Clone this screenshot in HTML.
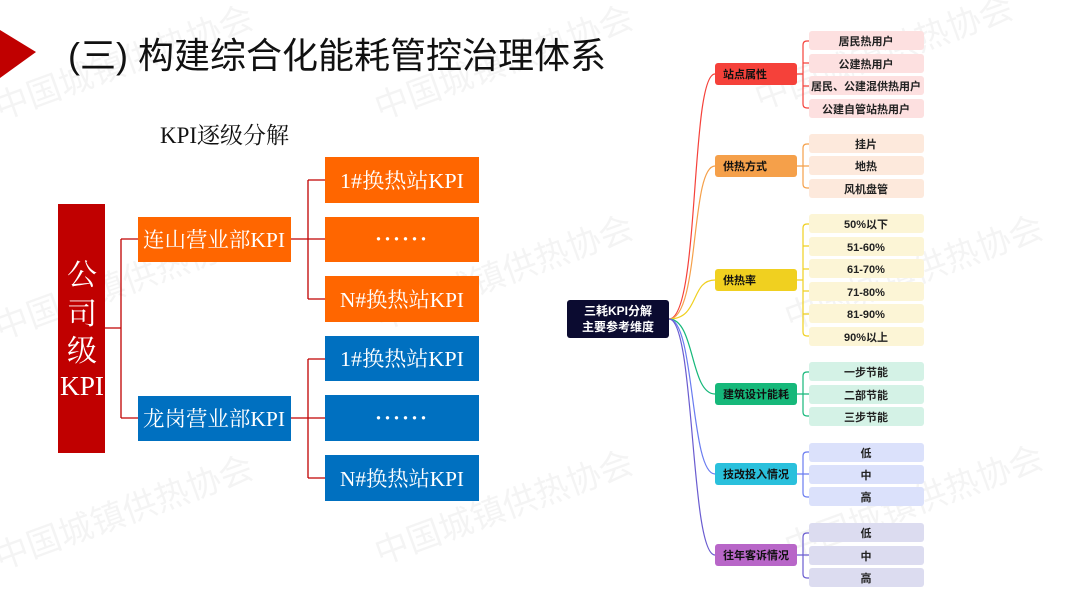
<!DOCTYPE html>
<html><head><meta charset="utf-8"><style>
html,body{margin:0;padding:0;background:#fff;}
body{width:1080px;height:608px;overflow:hidden;position:relative;}
svg{position:absolute;left:0;top:0;}
.s{font-family:"Liberation Serif","Noto Serif CJK SC",serif;}
.a{font-family:"Liberation Sans","Noto Sans CJK SC",sans-serif;}
</style></head><body>
<svg width="1080" height="608" viewBox="0 0 1080 608" xmlns="http://www.w3.org/2000/svg">
<g class="a" font-size="34" fill="#000" fill-opacity="0.045">
<text transform="translate(0,120) rotate(-20)">中国城镇供热协会</text>
<text transform="translate(380,120) rotate(-20)">中国城镇供热协会</text>
<text transform="translate(760,110) rotate(-20)">中国城镇供热协会</text>
<text transform="translate(0,340) rotate(-20)">中国城镇供热协会</text>
<text transform="translate(380,330) rotate(-20)">中国城镇供热协会</text>
<text transform="translate(790,330) rotate(-20)">中国城镇供热协会</text>
<text transform="translate(0,570) rotate(-20)">中国城镇供热协会</text>
<text transform="translate(380,565) rotate(-20)">中国城镇供热协会</text>
<text transform="translate(790,560) rotate(-20)">中国城镇供热协会</text>
</g>
<polygon points="0,30 36,52 0,78" fill="#c00000"/>
<text x="68" y="68" class="a" font-size="36" fill="#111" textLength="538" lengthAdjust="spacingAndGlyphs">(三) 构建综合化能耗管控治理体系</text>
<text x="160" y="143" class="s" font-size="23" fill="#111">KPI逐级分解</text>

<g stroke="#c00000" stroke-width="1.3" fill="none">
<path d="M105 328 H121 M121 239 V418 M121 239 H138 M121 418 H138"/>
<path d="M291 239 H325 M308 180 V299 M308 180 H325 M308 299 H325"/>
<path d="M291 418 H325 M308 359 V478 M308 359 H325 M308 478 H325"/>
</g>
<rect x="58" y="204" width="47" height="249" fill="#c00000"/>
<g class="s" fill="#fff" font-size="30" text-anchor="middle">
<text x="82" y="285">公</text><text x="82" y="324">司</text><text x="82" y="361">级</text><text x="82" y="395" font-size="27" textLength="44" lengthAdjust="spacingAndGlyphs">KPI</text>
</g>
<g fill="#ff6600">
<rect x="138" y="217" width="153" height="45"/>
<rect x="325" y="157" width="154" height="46"/>
<rect x="325" y="217" width="154" height="45"/>
<rect x="325" y="276" width="154" height="46"/>
</g>
<g fill="#0070c0">
<rect x="138" y="396" width="153" height="45"/>
<rect x="325" y="336" width="154" height="45"/>
<rect x="325" y="395" width="154" height="46"/>
<rect x="325" y="455" width="154" height="46"/>
</g>
<g class="s" fill="#fff" font-size="21" text-anchor="middle">
<text x="214" y="247" textLength="142" lengthAdjust="spacingAndGlyphs">连山营业部KPI</text>
<text x="214" y="426" textLength="142" lengthAdjust="spacingAndGlyphs">龙岗营业部KPI</text>
<text x="402" y="188" textLength="124" lengthAdjust="spacingAndGlyphs">1#换热站KPI</text>
<text x="402" y="246" font-weight="bold" letter-spacing="2">······</text>
<text x="402" y="307" textLength="124" lengthAdjust="spacingAndGlyphs">N#换热站KPI</text>
<text x="402" y="366" textLength="124" lengthAdjust="spacingAndGlyphs">1#换热站KPI</text>
<text x="402" y="425" font-weight="bold" letter-spacing="2">······</text>
<text x="402" y="486" textLength="124" lengthAdjust="spacingAndGlyphs">N#换热站KPI</text>
</g>

<g fill="none" stroke-width="1.2">
<path d="M669 319 C700 319 690 74 715 74" stroke="#f5413a"/>
<path d="M669 319 C700 319 690 166 715 166" stroke="#f5a04a"/>
<path d="M669 319 C700 319 690 280 715 280" stroke="#f0d020"/>
<path d="M669 319 C695 319 690 394 715 394" stroke="#16b87a"/>
<path d="M669 319 C695 319 690 474 715 474" stroke="#6a7cf0"/>
<path d="M669 319 C695 319 690 555 715 555" stroke="#6a5cd0"/>
<path d="M797 74 H803 M809 41 H807 Q803 41 803 45 V104 Q803 108 807 108 H809 M803 63 H809 M803 86 H809" stroke="#f5413a"/>
<path d="M797 166 H809 M809 144 H807 Q803 144 803 148 V184 Q803 188 807 188 H809" stroke="#f5a04a"/>
<path d="M797 280 H803 M809 224 H807 Q803 224 803 228 V332 Q803 336 807 336 H809 M803 246 H809 M803 269 H809 M803 291 H809 M803 314 H809" stroke="#f0d020"/>
<path d="M797 394 H809 M809 372 H807 Q803 372 803 376 V412 Q803 416 807 416 H809" stroke="#16b87a"/>
<path d="M797 474 H809 M809 452 H807 Q803 452 803 456 V493 Q803 497 807 497 H809" stroke="#6a7cf0"/>
<path d="M797 555 H809 M809 533 H807 Q803 533 803 537 V574 Q803 578 807 578 H809" stroke="#6a5cd0"/>
</g>
<rect x="567" y="300" width="102" height="38" rx="3" fill="#0b0b30"/>
<g class="a" font-size="12" font-weight="bold" fill="#fff" text-anchor="middle">
<text x="618" y="315">三耗KPI分解</text><text x="618" y="331">主要参考维度</text>
</g>
<g>
<rect x="715" y="63" width="82" height="22" rx="3" fill="#f5413a"/>
<rect x="715" y="155" width="82" height="22" rx="3" fill="#f5a04a"/>
<rect x="715" y="269" width="82" height="22" rx="3" fill="#f0d020"/>
<rect x="715" y="383" width="82" height="22" rx="3" fill="#16b87a"/>
<rect x="715" y="463" width="82" height="22" rx="3" fill="#2ac0dc"/>
<rect x="715" y="544" width="82" height="22" rx="3" fill="#b866c8"/>
</g>
<g class="a" font-size="11" font-weight="bold" fill="#111">
<text x="723" y="78">站点属性</text>
<text x="723" y="170">供热方式</text>
<text x="723" y="284">供热率</text>
<text x="723" y="398">建筑设计能耗</text>
<text x="723" y="478">技改投入情况</text>
<text x="723" y="559">往年客诉情况</text>
</g>
<g>
<g fill="#fde0e0">
<rect x="809" y="31" width="115" height="19" rx="3"/><rect x="809" y="54" width="115" height="19" rx="3"/><rect x="809" y="76" width="115" height="19" rx="3"/><rect x="809" y="99" width="115" height="19" rx="3"/></g>
<g fill="#fde9dc">
<rect x="809" y="134" width="115" height="19" rx="3"/><rect x="809" y="156" width="115" height="19" rx="3"/><rect x="809" y="179" width="115" height="19" rx="3"/></g>
<g fill="#fcf5d6">
<rect x="809" y="214" width="115" height="19" rx="3"/><rect x="809" y="237" width="115" height="19" rx="3"/><rect x="809" y="259" width="115" height="19" rx="3"/><rect x="809" y="282" width="115" height="19" rx="3"/><rect x="809" y="304" width="115" height="19" rx="3"/><rect x="809" y="327" width="115" height="19" rx="3"/></g>
<g fill="#d4f2e6">
<rect x="809" y="362" width="115" height="19" rx="3"/><rect x="809" y="385" width="115" height="19" rx="3"/><rect x="809" y="407" width="115" height="19" rx="3"/></g>
<g fill="#dbe1fb">
<rect x="809" y="443" width="115" height="19" rx="3"/><rect x="809" y="465" width="115" height="19" rx="3"/><rect x="809" y="487" width="115" height="19" rx="3"/></g>
<g fill="#dcdcf0">
<rect x="809" y="523" width="115" height="19" rx="3"/><rect x="809" y="546" width="115" height="19" rx="3"/><rect x="809" y="568" width="115" height="19" rx="3"/></g>
</g>
<g class="a" font-size="11" font-weight="bold" fill="#222" text-anchor="middle">
<text x="866" y="45">居民热用户</text><text x="866" y="68">公建热用户</text><text x="866" y="90">居民、公建混供热用户</text><text x="866" y="113">公建自管站热用户</text>
<text x="866" y="148">挂片</text><text x="866" y="170">地热</text><text x="866" y="193">风机盘管</text>
<text x="866" y="228">50%以下</text><text x="866" y="251">51-60%</text><text x="866" y="273">61-70%</text><text x="866" y="296">71-80%</text><text x="866" y="318">81-90%</text><text x="866" y="341">90%以上</text>
<text x="866" y="376">一步节能</text><text x="866" y="399">二部节能</text><text x="866" y="421">三步节能</text>
<text x="866" y="457">低</text><text x="866" y="479">中</text><text x="866" y="501">高</text>
<text x="866" y="537">低</text><text x="866" y="560">中</text><text x="866" y="582">高</text>
</g>
</svg>
</body></html>
